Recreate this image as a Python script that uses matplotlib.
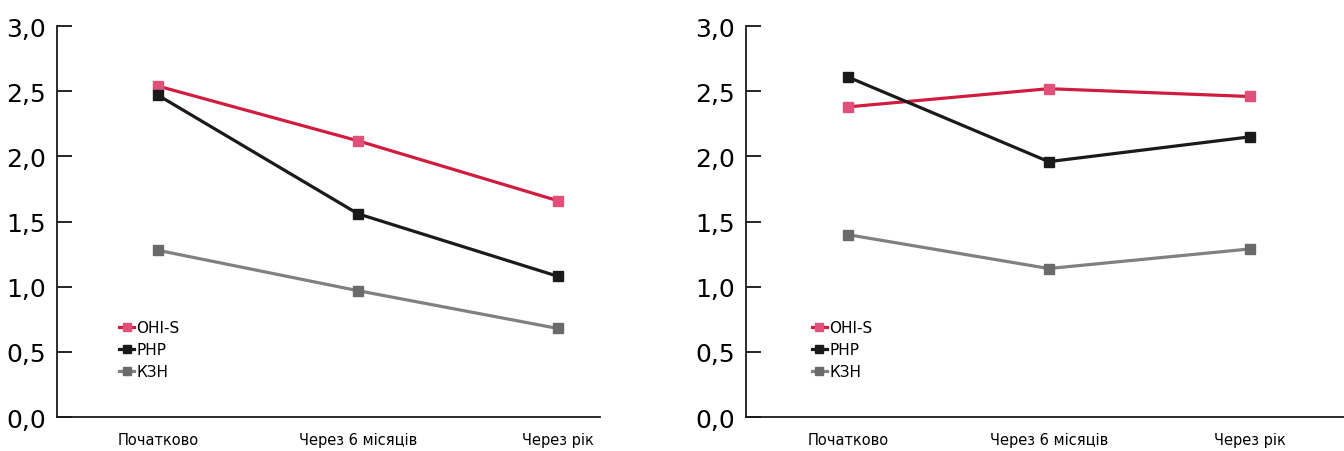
import numpy as np
import matplotlib
matplotlib.use("Agg")
import matplotlib.pyplot as plt

plt.rcParams['font.family'] = ['DejaVu Sans']

categories = ["Початково", "Через 6 місяців", "Через рік"]
series_names = ["OHI-S", "PHP", "КЗН"]

left_ohis = [2.54, 2.12, 1.66]
left_php = [2.47, 1.56, 1.08]
left_kzn = [1.28, 0.97, 0.68]

right_ohis = [2.38, 2.52, 2.46]
right_php = [2.61, 1.96, 2.15]
right_kzn = [1.40, 1.14, 1.29]

yticks = [0.0, 0.5, 1.0, 1.5, 2.0, 2.5, 3.0]
ytick_labels = ["0,0", "0,5", "1,0", "1,5", "2,0", "2,5", "3,0"]

line_colors = ["#d01c3f", "#1a1a1a", "#808080"]
marker_colors = ["#e0507a", "#1a1a1a", "#6a6a6a"]


def draw_panel(ax, data, xlim, legend_x):
    x = np.arange(len(categories))
    for vals, name, lc, mc in zip(data, series_names, line_colors, marker_colors):
        ax.plot(x, vals, color=lc, lw=2.3, marker="s", markersize=7,
                markerfacecolor=mc, markeredgecolor=mc, label=name)
    ax.set_xlim(*xlim)
    ax.set_ylim(0, 3.0)
    ax.set_xticks(x)
    ax.set_xticklabels(categories, fontsize=10.5)
    ax.tick_params(axis="x", length=0, pad=11)
    ax.set_yticks(yticks)
    ax.set_yticklabels(ytick_labels, fontsize=18)
    ax.tick_params(axis="y", direction="in", length=11, width=1.2, pad=8)
    for s in ["top", "right"]:
        ax.spines[s].set_visible(False)
    for s in ["left", "bottom"]:
        ax.spines[s].set_linewidth(1.3)
        ax.spines[s].set_color("#1a1a1a")
    ax.legend(loc="upper left", bbox_to_anchor=(legend_x, 0.267), frameon=False,
              fontsize=11, handlelength=1.0, handletextpad=0.15,
              labelspacing=0.45, borderpad=0, markerscale=0.9)


fig = plt.figure(figsize=(13.44, 4.52), dpi=100)
ax1 = fig.add_axes([0.0424, 0.075, 0.404, 0.865])
ax2 = fig.add_axes([0.555, 0.075, 0.445, 0.865])

draw_panel(ax1, [left_ohis, left_php, left_kzn], (-0.505, 2.21), 0.10)
draw_panel(ax2, [right_ohis, right_php, right_kzn], (-0.507, 2.47), 0.097)

fig.savefig("out.png", dpi=100)
